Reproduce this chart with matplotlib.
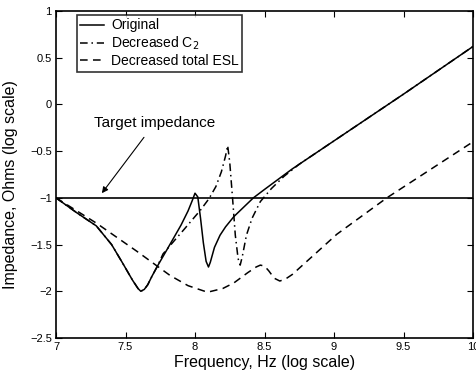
import matplotlib
matplotlib.use("Agg")
import matplotlib.pyplot as plt
from matplotlib.ticker import FixedLocator

plt.rcParams['font.family'] = ['Liberation Sans', 'DejaVu Sans']

# Original
orig_x = [7.0, 7.15, 7.29, 7.40, 7.48, 7.55, 7.59, 7.61, 7.635, 7.66, 7.69, 7.73, 7.8, 7.85,
          7.9, 7.95, 7.98, 8.0, 8.02, 8.04, 8.06, 8.08, 8.097, 8.11, 8.14, 8.18, 8.22,
          8.28, 8.35, 8.42, 8.5, 8.6, 8.7, 8.8, 9.0, 9.5, 10.0]
orig_y = [-1.0, -1.16, -1.30, -1.50, -1.70, -1.88, -1.97, -2.0, -1.98, -1.93, -1.84, -1.73, -1.55, -1.42,
          -1.29, -1.14, -1.03, -0.95, -0.99, -1.22, -1.48, -1.68, -1.74, -1.69, -1.53, -1.40, -1.31,
          -1.20, -1.10, -1.0, -0.91, -0.80, -0.69, -0.59, -0.39, 0.11, 0.62]

# Decreased C2
c2_x = [7.0, 7.15, 7.29, 7.40, 7.48, 7.55, 7.59, 7.61, 7.635, 7.66, 7.69, 7.73, 7.77, 7.85,
        7.92, 8.0, 8.04, 8.1, 8.15, 8.19, 8.22, 8.235, 8.25, 8.27, 8.29, 8.31, 8.325,
        8.34, 8.37, 8.41, 8.47, 8.55, 8.64, 8.75, 8.9, 9.0, 9.5, 10.0]
c2_y = [-1.0, -1.16, -1.30, -1.50, -1.70, -1.88, -1.97, -2.0, -1.98, -1.93, -1.84, -1.73, -1.60, -1.46,
        -1.34, -1.20, -1.13, -1.01, -0.88, -0.72, -0.55, -0.44, -0.62, -1.0, -1.40, -1.65, -1.72,
        -1.63, -1.40, -1.22, -1.04, -0.90, -0.77, -0.64, -0.49, -0.39, 0.11, 0.62]

# Decreased total ESL
esl_x = [7.0, 7.29, 7.58, 7.7, 7.82, 7.95, 8.09, 8.2, 8.28, 8.38, 8.44, 8.47, 8.5, 8.53,
         8.57, 8.61, 8.65, 8.7, 9.02, 9.38, 10.0]
esl_y = [-1.0, -1.27, -1.57, -1.70, -1.83, -1.94, -2.01, -1.97, -1.91, -1.80, -1.74, -1.72, -1.73, -1.78,
         -1.86, -1.89, -1.87, -1.82, -1.39, -1.0, -0.40]

target_level = -1.0

xticks = [7, 7.5, 8, 8.5, 9, 9.5, 10]
xtick_labels = ['7', '7.5', '8', '8.5', '9', '9.5', '10']
yticks = [-2.5, -2, -1.5, -1, -0.5, 0, 0.5, 1]
ytick_labels = ['\u22122.5', '\u22122', '\u22121.5', '\u22121', '\u22120.5', '0', '0.5', '1']

fig = plt.figure(figsize=(4.76, 3.75), dpi=100)
ax = fig.add_axes([56/476, 1-338/375, (473-56)/476, (338-11)/375])

lw = 1.1
ax.plot(orig_x, orig_y, color='black', lw=lw, linestyle='-', label='Original')
ax.plot(c2_x, c2_y, color='black', lw=lw, linestyle=(0, (5, 2.5, 1, 2.5)), label='Decreased C$_2$')
ax.plot(esl_x, esl_y, color='black', lw=lw, linestyle=(0, (5, 3.5)), label='Decreased total ESL')
ax.axhline(target_level, color='black', lw=1.2)

ax.set_xlim(7, 10)
ax.set_ylim(-2.5, 1)
ax.xaxis.set_major_locator(FixedLocator(xticks))
ax.set_xticklabels(xtick_labels)
ax.yaxis.set_major_locator(FixedLocator(yticks))
ax.set_yticklabels(ytick_labels)
ax.tick_params(direction='in', top=True, right=True, length=4, width=0.8, labelsize=8, pad=3)
for s in ax.spines.values():
    s.set_linewidth(1.2)

ax.set_xlabel('Frequency, Hz (log scale)', fontsize=11.5, labelpad=2)
ax.set_ylabel('Impedance, Ohms (log scale)', fontsize=11.5)
ax.yaxis.set_label_coords(-0.091, 0.47)

ax.annotate('Target impedance', xy=(7.33, -0.95), xytext=(7.71, -0.2),
            ha='center', va='center', fontsize=11,
            arrowprops=dict(arrowstyle='-|>', color='black', lw=0.8, mutation_scale=9,
                            shrinkA=4, shrinkB=0))

leg = ax.legend(loc='upper left', bbox_to_anchor=(21/417, 1-4/327), borderaxespad=0,
                fontsize=10, frameon=True, fancybox=False, edgecolor='black',
                handlelength=1.7, handletextpad=0.5, labelspacing=0.15, borderpad=0.25)
leg.get_frame().set_linewidth(1.2)

fig.savefig('out.png', dpi=100)
